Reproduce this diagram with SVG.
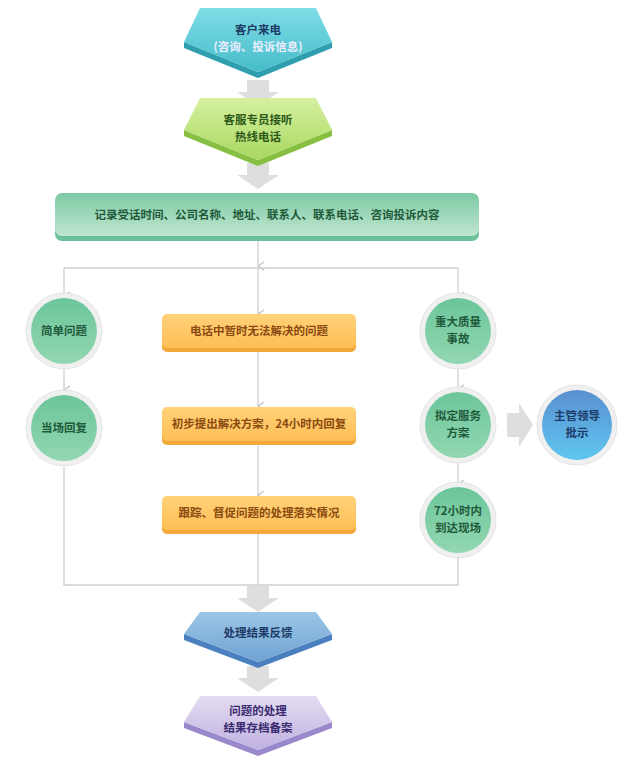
<svg xmlns="http://www.w3.org/2000/svg" width="636" height="765" viewBox="0 0 636 765">
<defs>
<linearGradient id="gc" x1="0" y1="0" x2="0" y2="1"><stop offset="0" stop-color="#7fdde6"/><stop offset="1" stop-color="#45bcc9"/></linearGradient>
<linearGradient id="gg" x1="0" y1="0" x2="0" y2="1"><stop offset="0" stop-color="#d6f0a0"/><stop offset="1" stop-color="#a8d860"/></linearGradient>
<linearGradient id="gb" x1="0" y1="0" x2="0" y2="1"><stop offset="0" stop-color="#7dc9a3"/><stop offset="1" stop-color="#bfe6d0"/></linearGradient>
<linearGradient id="go" x1="0" y1="0" x2="0" y2="1"><stop offset="0" stop-color="#ffd27a"/><stop offset="1" stop-color="#ffbe55"/></linearGradient>
<linearGradient id="gr" x1="0" y1="0" x2="0" y2="1"><stop offset="0" stop-color="#6cc59a"/><stop offset="1" stop-color="#92d7b2"/></linearGradient>
<linearGradient id="gl" x1="0" y1="0" x2="0" y2="1"><stop offset="0" stop-color="#5a8fd0"/><stop offset="1" stop-color="#5ec6f0"/></linearGradient>
<linearGradient id="gd" x1="0" y1="0" x2="0" y2="1"><stop offset="0" stop-color="#9cc6e6"/><stop offset="1" stop-color="#6fa2d2"/></linearGradient>
<linearGradient id="gp" x1="0" y1="0" x2="0" y2="1"><stop offset="0" stop-color="#e4dcf2"/><stop offset="1" stop-color="#bfb0e0"/></linearGradient>
<marker id="ah" markerWidth="10" markerHeight="8" refX="5" refY="7" orient="auto" markerUnits="userSpaceOnUse" viewBox="0 0 10 8"><path d="M1,1 L5,7 L9,1" fill="none" stroke="#c0c0c0" stroke-width="1.3"/></marker>
</defs>
<style>
text{font-family:"Noto Sans CJK SC","Liberation Sans",sans-serif;font-size:11.5px;font-weight:bold;text-anchor:middle}
.ln{fill:none;stroke:#cfcfcf;stroke-width:1.3}
.big{fill:#dedede}
.ring{fill:#f0f0f0;stroke:#e4e4e4}
</style>
<rect width="636" height="765" fill="#fff"/>
<g id="connectors">
<path class="big" d="M247,80h22v12h10l-21,14l-21,-14h10z"/>
<path class="big" d="M247,163h22v12h10l-21,14l-21,-14h10z"/>
<path class="big" d="M247,586h22v12h10l-21,14l-21,-14h10z"/>
<path class="big" d="M247,666h22v12h10l-21,14l-21,-14h10z"/>
<path class="big" d="M507,413h12v-10l14,22l-14,22v-10h-12z"/>
<path class="ln" d="M258,239V266" marker-end="url(#ah)"/>
<path class="ln" d="M64,268H458"/>
<path class="ln" d="M64,268V296" marker-end="url(#ah)"/>
<path class="ln" d="M458,268V296" marker-end="url(#ah)"/>
<path class="ln" d="M258,268V314" marker-end="url(#ah)"/>
<path class="ln" d="M258,351V406" marker-end="url(#ah)"/>
<path class="ln" d="M258,446V495" marker-end="url(#ah)"/>
<path class="ln" d="M64,367V390" marker-end="url(#ah)"/>
<path class="ln" d="M458,367V389" marker-end="url(#ah)"/>
<path class="ln" d="M458,462V484" marker-end="url(#ah)"/>
<path class="ln" d="M64,467V585H458V557"/>
<path class="ln" d="M258,534V585"/>
</g>
<g id="n1">
<path d="M184,42L258,72L332,42V48L258,78L184,48z" fill="#2f9fb0"/>
<path d="M200,8H316L332,42L258,72L184,42z" fill="url(#gc)"/>
<text x="258" y="34" fill="#1d3a66">客户来电</text>
<text x="258" y="51" fill="#eef" font-weight="normal" font-size="10.5">(咨询、投诉信息)</text>
</g>
<g id="n2">
<path d="M184,130L258,160L332,130V136L258,166L184,136z" fill="#86bf42"/>
<path d="M200,98H316L332,130L258,160L184,130z" fill="url(#gg)"/>
<text x="258" y="124" fill="#2d5a1a">客服专员接听</text>
<text x="258" y="141" fill="#2d5a1a">热线电话</text>
</g>
<g id="n3">
<rect x="55" y="197" width="424" height="44" rx="7" fill="#6cc19a"/>
<rect x="55" y="193" width="424" height="43" rx="7" fill="url(#gb)"/>
<text x="267" y="219" fill="#1f5a3a">记录受话时间、公司名称、地址、联系人、联系电话、咨询投诉内容</text>
</g>
<g id="n4"><circle cx="64" cy="331" r="38" class="ring"/><circle cx="64" cy="331" r="33" fill="url(#gr)"/><text x="64" y="335" fill="#1f5a3a">简单问题</text></g>
<g id="n5"><circle cx="64" cy="428" r="38" class="ring"/><circle cx="64" cy="428" r="33" fill="url(#gr)"/><text x="64" y="432" fill="#1f5a3a">当场回复</text></g>
<g id="n6"><rect x="162" y="316" width="194" height="36" rx="5" fill="#f0a93a"/><rect x="162" y="314" width="194" height="34" rx="5" fill="url(#go)"/><text x="259" y="335" fill="#8a4a10">电话中暂时无法解决的问题</text></g>
<g id="n7"><rect x="162" y="409" width="194" height="36" rx="5" fill="#f0a93a"/><rect x="162" y="407" width="194" height="34" rx="5" fill="url(#go)"/><text x="259" y="428" fill="#8a4a10">初步提出解决方案，24小时内回复</text></g>
<g id="n8"><rect x="162" y="498" width="194" height="36" rx="5" fill="#f0a93a"/><rect x="162" y="496" width="194" height="34" rx="5" fill="url(#go)"/><text x="259" y="517" fill="#8a4a10">跟踪、督促问题的处理落实情况</text></g>
<g id="n9"><circle cx="458" cy="331" r="38" class="ring"/><circle cx="458" cy="331" r="33" fill="url(#gr)"/><text x="458" y="326" fill="#1f5a3a">重大质量</text><text x="458" y="343" fill="#1f5a3a">事故</text></g>
<g id="n10"><circle cx="458" cy="425" r="38" class="ring"/><circle cx="458" cy="425" r="33" fill="url(#gr)"/><text x="458" y="420" fill="#1f5a3a">拟定服务</text><text x="458" y="437" fill="#1f5a3a">方案</text></g>
<g id="n11"><circle cx="458" cy="520" r="38" class="ring"/><circle cx="458" cy="520" r="33" fill="url(#gr)"/><text x="458" y="515" fill="#1f5a3a">72小时内</text><text x="458" y="532" fill="#1f5a3a">到达现场</text></g>
<g id="n12"><circle cx="577" cy="425" r="40" class="ring"/><circle cx="577" cy="425" r="35" fill="url(#gl)"/><text x="577" y="420" fill="#1d3a66">主管领导</text><text x="577" y="437" fill="#1d3a66">批示</text></g>
<g id="n13">
<path d="M184,634L258,662L332,634V640L258,668L184,640z" fill="#4a7fc0"/>
<path d="M200,612H316L332,634L258,662L184,634z" fill="url(#gd)"/>
<text x="258" y="637" fill="#1d3a66">处理结果反馈</text>
</g>
<g id="n14">
<path d="M184,722L258,750L332,722V728L258,756L184,728z" fill="#9a88cc"/>
<path d="M200,696H316L332,722L258,750L184,722z" fill="url(#gp)"/>
<text x="258" y="715" fill="#3a2a70">问题的处理</text>
<text x="258" y="732" fill="#3a2a70">结果存档备案</text>
</g>
</svg>
